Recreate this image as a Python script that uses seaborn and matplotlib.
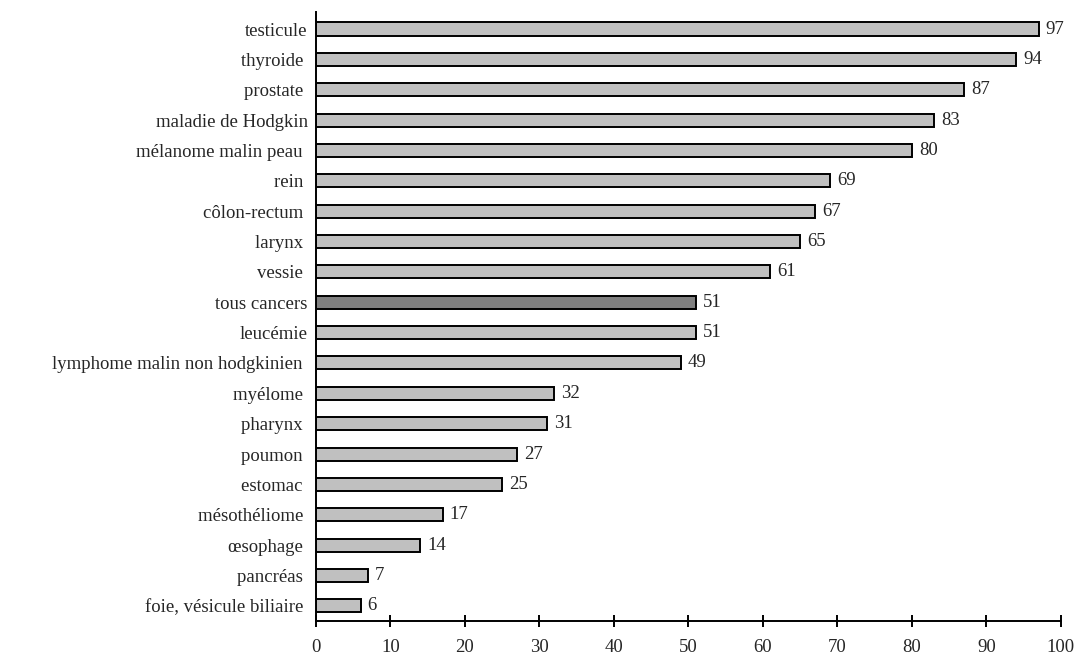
import matplotlib
matplotlib.use("Agg")
import matplotlib.pyplot as plt
import seaborn as sns
import pandas as pd

sites = ["testicule", "thyroide ", "prostate ", "maladie de Hodgkin", "mélanome malin peau ",
         "rein ", "côlon-rectum ", "larynx ", "vessie ", "tous cancers", "leucémie",
         "lymphome malin non hodgkinien ", "myélome ", "pharynx ", "poumon ", "estomac ",
         "mésothéliome ", "œsophage ", "pancréas ", "foie, vésicule biliaire "]
survie = [97, 94, 87, 83, 80, 69, 67, 65, 61, 51, 51, 49, 32, 31, 27, 25, 17, 14, 7, 6]
groupe = ["site"] * 9 + ["total"] + ["site"] * 10
xticks = [0, 10, 20, 30, 40, 50, 60, 70, 80, 90, 100]

df = pd.DataFrame({"site": sites, "survie": survie, "groupe": groupe})

sns.set_style("white")
plt.rcParams["font.family"] = ["Liberation Serif", "DejaVu Serif"]
fs = 13.5

fig = plt.figure(figsize=(10.78, 6.57), dpi=100)
ax = fig.add_axes([0.2931, 0.0548, 0.6911, 0.9269])

sns.barplot(data=df, x="survie", y="site", hue="groupe", orient="h",
            palette={"site": "#C0C0C0", "total": "#808080"},
            width=0.43, edgecolor="black", linewidth=1.4, dodge=False,
            legend=False, ax=ax)

for cont in ax.containers:
    ax.bar_label(cont, labels=[f"{v:g}" for v in cont.datavalues],
                 padding=5, fontsize=fs)

ax.set_xlim(0, 100)
ax.set_ylim(19.5, -0.56)
ax.set_xticks(xticks)
ax.set_xlabel("")
ax.set_ylabel("")
ax.tick_params(axis="x", bottom=True, direction="inout", length=8, width=1.4,
               color="black", labelsize=fs, pad=9)
ax.tick_params(axis="y", left=False, length=0, labelsize=fs, pad=6)
for s in ["top", "right"]:
    ax.spines[s].set_visible(False)
for s in ["left", "bottom"]:
    ax.spines[s].set_color("black")
    ax.spines[s].set_linewidth(1.4)

fig.savefig("out.png", dpi=100, facecolor="white")
